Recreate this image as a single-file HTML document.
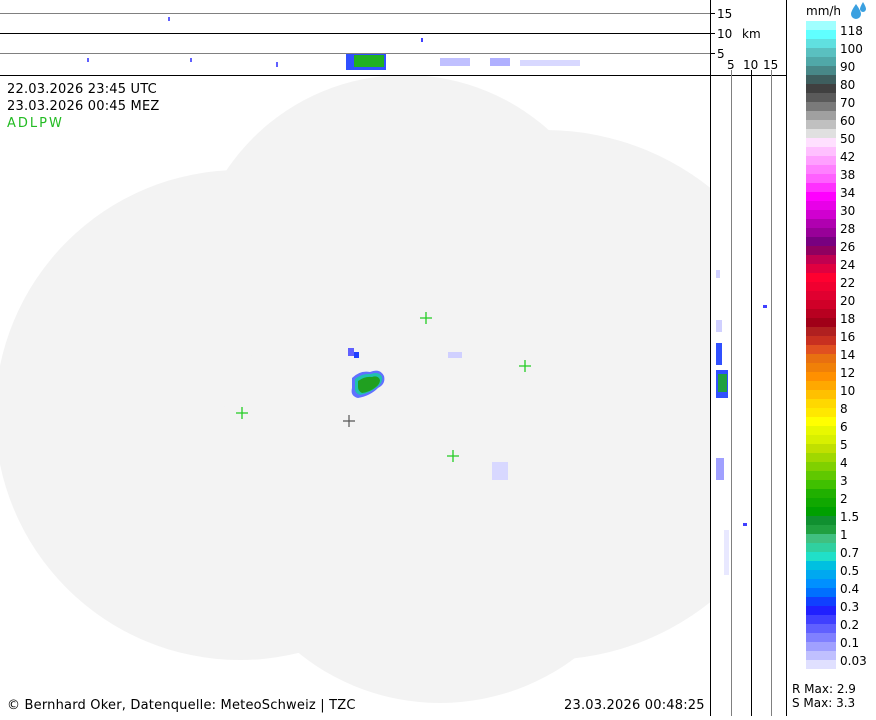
<!DOCTYPE html>
<html><head><meta charset="utf-8"><style>
body{margin:0;background:#fff;width:876px;height:716px;overflow:hidden;font-family:"DejaVu Sans","Liberation Sans",sans-serif}
svg text{font-family:"DejaVu Sans","Liberation Sans",sans-serif;font-size:12px}
svg text.b{font-size:13px;letter-spacing:0.2px}
</style></head><body>
<svg width="876" height="716" xmlns="http://www.w3.org/2000/svg">
<defs><clipPath id="c"><rect x="0" y="76" width="710" height="640"/></clipPath></defs>
<g clip-path="url(#c)" fill="#f3f3f3">
<circle cx="240" cy="415" r="245"/>
<circle cx="405" cy="290" r="215"/>
<circle cx="545" cy="395" r="265"/>
<circle cx="440" cy="478" r="225"/>
</g>
<g>
<path d="M352,378 q8,-8 18,-6 q10,-4 14,4 q2,8 -6,12 q-8,8 -20,10 q-8,-2 -6,-10z" fill="#6070ff"/>
<path d="M355,379 q8,-6 16,-5 q8,-3 11,3 q1,6 -5,10 q-7,6 -17,8 q-6,-2 -5,-8z" fill="#20c0b0"/>
<path d="M358,381 q7,-5 14,-4 q6,-2 8,3 q0,4 -4,7 q-6,5 -14,6 q-4,-2 -4,-6z" fill="#20a020"/>
<rect x="348" y="348" width="6" height="8" fill="#6060ff"/><rect x="354" y="352" width="5" height="6" fill="#2040ff"/>
<rect x="448" y="352" width="14" height="6" fill="#d0d0ff"/>
<rect x="492" y="462" width="16" height="18" fill="#d8d8ff"/>
<rect x="716" y="343" width="6" height="22" fill="#3050ff"/>
<rect x="716" y="370" width="12" height="28" fill="#3050ff"/><rect x="718" y="374" width="9" height="18" fill="#20a040"/>
<rect x="716" y="458" width="8" height="22" fill="#a0a0ff"/>
<rect x="716" y="270" width="4" height="8" fill="#d0d0ff"/>
<rect x="716" y="320" width="6" height="12" fill="#d0d0ff"/>
<rect x="763" y="305" width="4" height="3" fill="#4040ff"/>
<rect x="743" y="523" width="4" height="3" fill="#4040ff"/>
<rect x="724" y="530" width="5" height="45" fill="#e8e8ff"/>
<rect x="346" y="54" width="40" height="16" fill="#3050ff"/><rect x="354" y="55" width="30" height="12" fill="#20b020"/>
<rect x="168" y="17" width="2" height="4" fill="#6060ff"/>
<rect x="87" y="58" width="2" height="4" fill="#6060ff"/><rect x="190" y="58" width="2" height="4" fill="#6060ff"/>
<rect x="276" y="62" width="2" height="5" fill="#6060ff"/><rect x="421" y="38" width="2" height="4" fill="#4040ff"/>
<rect x="440" y="58" width="30" height="8" fill="#c0c0ff"/><rect x="490" y="58" width="20" height="8" fill="#b0b0ff"/>
<rect x="520" y="60" width="60" height="6" fill="#d8d8ff"/>
</g>
<g stroke="#22cc22" stroke-width="1.3">
<path d="M420,318h12M426,312v12M519,366h12M525,360v12M236,413h12M242,407v12M447,456h12M453,450v12"/>
</g>
<path d="M343,421h12M349,415v12" stroke="#555" stroke-width="1.2"/>
<line x1="0" y1="13.5" x2="710" y2="13.5" stroke="#808080"/>
<line x1="0" y1="33.5" x2="710" y2="33.5" stroke="#000"/>
<line x1="0" y1="53.5" x2="710" y2="53.5" stroke="#808080"/>
<line x1="0" y1="75.5" x2="786" y2="75.5" stroke="#000"/>
<line x1="710.5" y1="0" x2="710.5" y2="716" stroke="#000"/>
<line x1="731.5" y1="70" x2="731.5" y2="716" stroke="#808080"/>
<line x1="751.5" y1="70" x2="751.5" y2="716" stroke="#000"/>
<line x1="771.5" y1="70" x2="771.5" y2="716" stroke="#808080"/>
<line x1="786.5" y1="0" x2="786.5" y2="716" stroke="#000"/>
<path d="M710,13.5h5M710,33.5h5M710,53.5h5" stroke="#000"/>
<text x="717" y="18">15</text><text x="717" y="38">10</text><text x="742" y="38">km</text><text x="717" y="58">5</text>
<text x="727" y="69">5</text><text x="743" y="69">10</text><text x="763" y="69">15</text>
<text class="b" x="7" y="93">22.03.2026 23:45 UTC</text>
<text class="b" x="7" y="110">23.03.2026 00:45 MEZ</text>
<text class="b" x="7" y="127" fill="#22bb22" style="letter-spacing:2px">ADLPW</text>
<text class="b" x="7" y="709">© Bernhard Oker, Datenquelle: MeteoSchweiz | TZC</text>
<text class="b" x="564" y="709">23.03.2026 00:48:25</text>
<text x="806" y="15">mm/h</text>
<path d="M856,4 q-5,7 -5,10 a5,5 0 0 0 10,0 q0,-3 -5,-10z M863,2 q-3,5 -3,7 a3,3 0 0 0 6,0 q0,-2 -3,-7z" fill="#3aa0e0"/>
<text x="792" y="693">R Max: 2.9</text>
<text x="792" y="707">S Max: 3.3</text>
<g id="leg"></g>
</svg>
<script>
var cols="#a0ffff,#60ffff,#60e0e0,#5ac0c0,#50a8a8,#488888,#3e5e5e,#404040,#5a5a5a,#7a7a7a,#a0a0a0,#c0c0c0,#e0e0e0,#ffe0ff,#ffc0ff,#ffa0ff,#ff80ff,#ff60ff,#ff30ff,#ff00ff,#e800e8,#d000d0,#b000b0,#980098,#780080,#900060,#c00050,#e00040,#ff0030,#f00030,#e00030,#d00028,#b80020,#a00018,#b02020,#c83020,#e05020,#e87010,#f08008,#ff9000,#ffa800,#ffc000,#ffd800,#ffe800,#ffff00,#e8f800,#d8f000,#c0e000,#a0d800,#80d000,#60c800,#40c000,#20b000,#10a800,#00a000,#109030,#20a040,#40c080,#30d0a0,#20e0c8,#00c0e0,#00a8f0,#0090ff,#0070ff,#1040ff,#2020ff,#4040ff,#6060ff,#8080ff,#a0a0ff,#c0c0ff,#e0e0ff".split(",");
var labs="118,100,90,80,70,60,50,42,38,34,30,28,26,24,22,20,18,16,14,12,10,8,6,5,4,3,2,1.5,1,0.7,0.5,0.4,0.3,0.2,0.1,0.03".split(",");
var g=document.getElementById("leg"),h="";
cols.forEach(function(c,i){h+='<rect x="806" y="'+(21+9*i)+'" width="30" height="9" fill="'+c+'"/>';});
labs.forEach(function(l,i){h+='<text x="840" y="'+(35+18*i)+'">'+l+'</text>';});
g.innerHTML=h;
</script>
</body></html>
